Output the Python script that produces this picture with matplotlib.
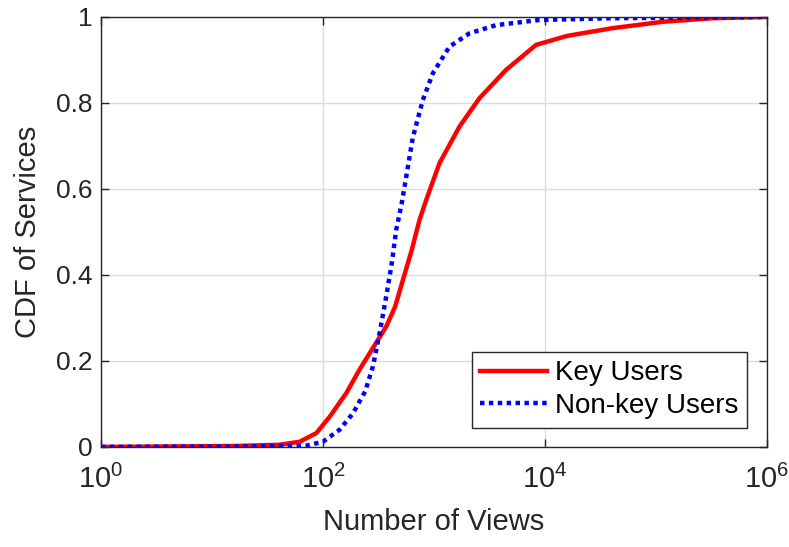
import matplotlib
matplotlib.use('Agg')
import matplotlib.pyplot as plt
import numpy as np

# curve samples (log10 of views, cdf)
key_logx = [0.0, 1.2, 1.61, 1.79, 1.94, 2.06, 2.21, 2.33, 2.45, 2.57, 2.65, 2.72,
            2.80, 2.87, 2.93, 3.05, 3.23, 3.41, 3.65, 3.92, 4.20, 4.61, 5.07, 5.51, 6.0]
key_cdf = [0.0, 0.002, 0.005, 0.012, 0.032, 0.07, 0.125, 0.18, 0.23, 0.28, 0.326, 0.388,
           0.458, 0.528, 0.574, 0.66, 0.745, 0.811, 0.877, 0.935, 0.956, 0.974, 0.989,
           0.997, 1.0]

nonkey_logx = [0.0, 1.3, 1.85, 2.0, 2.15, 2.27, 2.38, 2.45, 2.51, 2.57, 2.62, 2.66,
               2.71, 2.81, 2.90, 2.99, 3.14, 3.32, 3.56, 3.95, 4.6, 6.0]
nonkey_cdf = [0.0, 0.001, 0.003, 0.012, 0.04, 0.078, 0.129, 0.187, 0.264, 0.35, 0.427,
              0.505, 0.567, 0.72, 0.807, 0.869, 0.931, 0.962, 0.981, 0.993, 0.997, 1.0]

series_labels = ['Key Users', 'Non-key Users']
xtick_vals = [1, 1e2, 1e4, 1e6]
ytick_vals = [0, 0.2, 0.4, 0.6, 0.8, 1]

fam = 'Liberation Sans'
plt.rcParams['font.family'] = [fam, 'DejaVu Sans']
plt.rcParams['mathtext.fontset'] = 'custom'
plt.rcParams['mathtext.rm'] = fam

fig = plt.figure(figsize=(7.89, 5.47), dpi=100)
ax = fig.add_axes([0.128, 0.183, 0.844, 0.786])

ax.plot(10 ** np.array(key_logx), key_cdf, color='red', lw=3.2, ls='-', label=series_labels[0])
ax.plot(10 ** np.array(nonkey_logx), nonkey_cdf, color='blue', lw=3.2, ls=(0, (1, 1)),
        label=series_labels[1])

ax.set_xscale('log')
ax.set_xlim(1, 1e6)
ax.set_ylim(0, 1)
ax.set_xticks(xtick_vals)
ax.set_xticklabels([r'$10^{%d}$' % int(np.log10(v)) for v in xtick_vals])
ax.xaxis.set_minor_locator(matplotlib.ticker.NullLocator())
ax.set_yticks(ytick_vals)
ax.set_yticklabels(['0', '0.2', '0.4', '0.6', '0.8', '1'])

ax.grid(True, color='#dcdcdc', lw=1)
ax.set_axisbelow(True)
ax.tick_params(direction='in', length=6, width=1, labelsize=19, colors='#262626',
               top=True, right=True, pad=6)
ax.tick_params(axis='x', labelsize=21, pad=13)
for s in ax.spines.values():
    s.set_color('#262626')
    s.set_linewidth(1)

ax.set_xlabel('Number of Views', fontsize=21, color='#262626', labelpad=10)
ax.set_ylabel('CDF of Services', fontsize=21, color='#262626', labelpad=10)

leg = ax.legend(loc='lower right', bbox_to_anchor=(0.97, 0.045), fontsize=20,
                frameon=True, fancybox=False, handlelength=2.4, handletextpad=0.3,
                borderpad=0.3, labelspacing=0.25, borderaxespad=0)
leg.get_frame().set_edgecolor('#262626')
leg.get_frame().set_linewidth(1)
leg.get_frame().set_alpha(1)

fig.savefig('out.png', dpi=100)
